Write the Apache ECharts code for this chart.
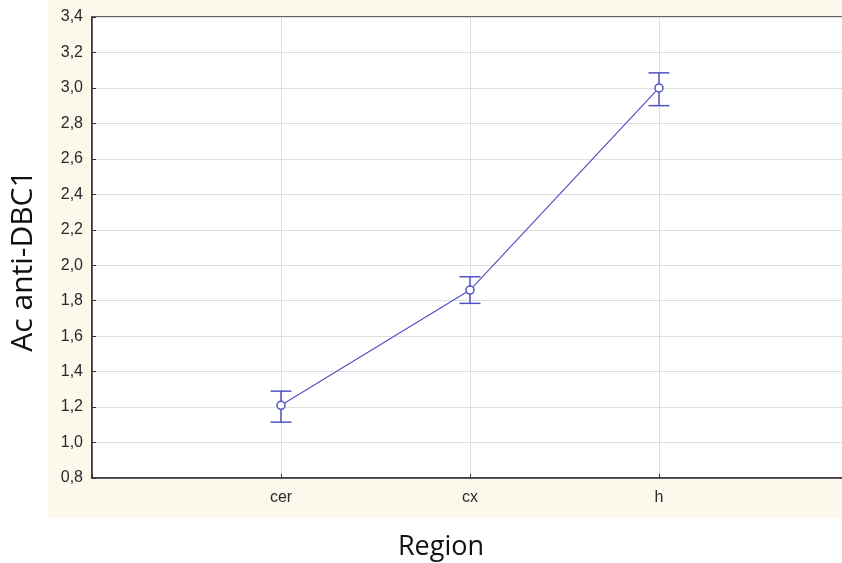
<!DOCTYPE html>
<html>
<head>
<meta charset="utf-8">
<script src="https://cdn.jsdelivr.net/npm/echarts@6/dist/echarts.min.js"></script>
<style>
  html, body { margin: 0; padding: 0; background: #ffffff; }
  #chart { width: 842px; height: 563px; }
</style>
</head>
<body>
<div id="chart"></div>
<script>
const categories = ["cer", "cx", "h"];
const positions = [1, 2, 3];
const means = [1.21, 1.86, 3.0];
const lower = [1.115, 1.785, 2.9];
const upper = [1.29, 1.935, 3.085];
const xTitle = "Region";
const yTitle = "Ac anti-DBC1";

const colors = {
  line: "#5252c4",
  axis: "#333333",
  grid: "#dedede",
  text: "#2a2a2a",
  cream: "#fcf8ec"
};

const labelFont = "'Liberation Sans', Arial, sans-serif";
const titleFont = "'Open Sans', 'Noto Sans', sans-serif";

const chart = echarts.init(document.getElementById("chart"), null, { renderer: "canvas" });

chart.setOption({
  backgroundColor: "#ffffff",
  animation: false,
  graphic: [
    { type: "rect", z: -10, shape: { x: 48, y: 0, width: 794, height: 518 }, style: { fill: colors.cream } },
    {
      type: "text", x: 23, y: 261, rotation: Math.PI / 2,
      style: { text: yTitle, fontFamily: titleFont, fontSize: 30, fill: "#111", align: "center", verticalAlign: "middle" }
    },
    {
      type: "text", x: 441, y: 547,
      style: { text: xTitle, fontFamily: titleFont, fontSize: 27, fill: "#111", align: "center", verticalAlign: "middle" }
    }
  ],
  grid: {
    left: 92, top: 17, width: 756, height: 461,
    outerBoundsMode: "none",
    show: true, backgroundColor: "#ffffff", borderColor: colors.axis, borderWidth: 1.5
  },
  xAxis: {
    type: "value", min: 0, max: 4, interval: 1,
    axisLine: { show: true, lineStyle: { color: colors.axis, width: 1.5 } },
    axisTick: { show: true, inside: true, length: 4, lineStyle: { color: colors.axis } },
    axisLabel: {
      margin: 12, fontFamily: labelFont, fontSize: 16, color: colors.text,
      formatter: v => categories[positions.indexOf(v)] || ""
    },
    splitLine: { show: true, lineStyle: { color: colors.grid, width: 1 } }
  },
  yAxis: {
    type: "value", min: 0.8, max: 3.4, interval: 0.2,
    axisLine: { show: true, lineStyle: { color: colors.axis, width: 1.5 } },
    axisTick: { show: true, inside: true, length: 4, lineStyle: { color: colors.axis } },
    axisLabel: {
      margin: 9, fontFamily: labelFont, fontSize: 16, color: colors.text,
      formatter: v => v.toFixed(1).replace(".", ",")
    },
    splitLine: { show: true, lineStyle: { color: colors.grid, width: 1 } }
  },
  series: [
    {
      type: "custom",
      data: positions.map((p, i) => [p, lower[i], upper[i]]),
      z: 3,
      renderItem: (params, api) => {
        const lo = api.coord([api.value(0), api.value(1)]);
        const hi = api.coord([api.value(0), api.value(2)]);
        const hw = 10.5;
        const style = { stroke: colors.line, lineWidth: 1.5, fill: "none" };
        return {
          type: "group",
          children: [
            { type: "line", shape: { x1: lo[0], y1: lo[1], x2: hi[0], y2: hi[1] }, style },
            { type: "line", shape: { x1: lo[0] - hw, y1: lo[1], x2: lo[0] + hw, y2: lo[1] }, style },
            { type: "line", shape: { x1: hi[0] - hw, y1: hi[1], x2: hi[0] + hw, y2: hi[1] }, style }
          ]
        };
      }
    },
    {
      type: "line",
      data: positions.map((p, i) => [p, means[i]]),
      z: 4,
      symbol: "circle",
      symbolSize: 8,
      showAllSymbol: true,
      lineStyle: { color: colors.line, width: 1.2 },
      itemStyle: { color: "#ffffff", borderColor: colors.line, borderWidth: 1.5 }
    }
  ]
});
</script>
</body>
</html>
